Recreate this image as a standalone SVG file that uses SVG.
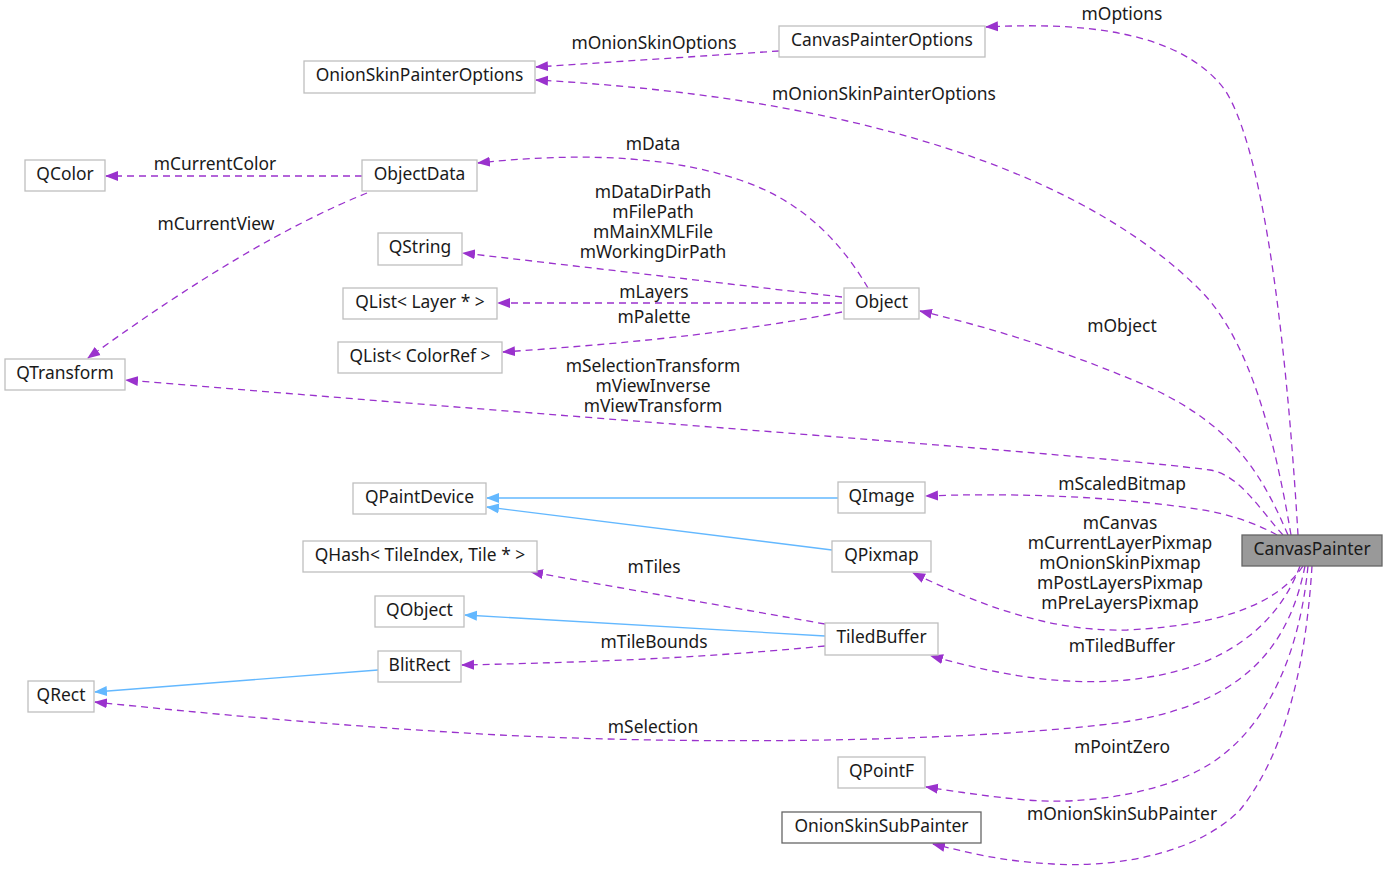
<svg xmlns="http://www.w3.org/2000/svg" width="1388" height="870" viewBox="0 0 1388 870">
<style>
text{font-family:"Noto Sans","Open Sans","DejaVu Sans",sans-serif;font-size:17.4px;fill:#1a1a1a;text-anchor:middle}
.n rect{fill:#fff;stroke:#bfbfbf;stroke-width:1.3}
.n.dk rect{stroke:#666}
.n.main rect{fill:#999;stroke:#666}
.e path{fill:none;stroke-width:1.3}
.u{stroke:#9a32cd;stroke-dasharray:7,5;marker-end:url(#ap)}
.b{stroke:#63b8ff;marker-end:url(#ab)}
</style>
<defs>
<marker id="ap" viewBox="0 0 13 11" refX="12" refY="5.5" markerWidth="13" markerHeight="11" markerUnits="userSpaceOnUse" orient="auto"><path d="M0,0.5 L13,5.5 L0,10.5 Z" fill="#9a32cd"/></marker>
<marker id="ab" viewBox="0 0 13 11" refX="12" refY="5.5" markerWidth="13" markerHeight="11" markerUnits="userSpaceOnUse" orient="auto"><path d="M0,0.5 L13,5.5 L0,10.5 Z" fill="#63b8ff"/></marker>
</defs>
<rect width="1388" height="870" fill="#fff"/>
<g id="edges" class="e">
<path class="u" d="M1298,535 C1290,400 1270,160 1225,90 C1180,30 1080,22 986,27"/>
<path class="u" d="M1291,535 C1275,440 1250,340 1200,290 C1100,190 900,100 536,80"/>
<path class="u" d="M1288,535 C1260,470 1230,420 1133,380 C1060,350 1000,330 920,311"/>
<path class="u" d="M1283,535 C1260,510 1240,475 1210,470 C1100,455 600,420 126,380"/>
<path class="u" d="M1277,535 C1250,520 1220,512 1190,508 C1100,495 1000,493 926,496"/>
<path class="u" d="M1303,566 C1280,600 1230,625 1127,630 C1050,632 980,605 913,573"/>
<path class="u" d="M1300,566 C1280,620 1230,670 1127,680 C1060,686 1000,675 931,656"/>
<path class="u" d="M1305,566 C1290,640 1250,710 1100,725 C950,742 700,745 500,735 C350,727 200,713 95,702"/>
<path class="u" d="M1308,566 C1300,650 1270,720 1220,757 C1170,795 1080,805 1027,800 C990,797 960,792 926,787"/>
<path class="u" d="M1312,566 C1305,680 1280,760 1240,810 C1190,860 1100,867 1053,864 C1000,861 970,853 933,844"/>
<path class="u" d="M779,51 L536,67"/>
<path class="u" d="M362,176 L106,176"/>
<path class="u" d="M367,193 Q250,240 88,358"/>
<path class="u" d="M868,288 C840,240 800,200 740,180 C680,160 600,150 478,163"/>
<path class="u" d="M842,297 L463,253"/>
<path class="u" d="M842,303 L498,303"/>
<path class="u" d="M842,312 C750,330 650,342 503,352"/>
<path class="u" d="M825,624 L531,572"/>
<path class="u" d="M825,646 C700,658 600,662 462,665"/>
<path class="b" d="M838,498 L487,498"/>
<path class="b" d="M832,550 L487,507"/>
<path class="b" d="M825,636 L465,615"/>
<path class="b" d="M378,670 L95,692"/>
</g>
<g id="edge-labels">
<text x="1122" y="20">mOptions</text>
<text x="654" y="49">mOnionSkinOptions</text>
<text x="884" y="100">mOnionSkinPainterOptions</text>
<text x="215" y="170">mCurrentColor</text>
<text x="653" y="150">mData</text>
<text x="653" y="198">mDataDirPath<tspan x="653" dy="20">mFilePath</tspan><tspan x="653" dy="20">mMainXMLFile</tspan><tspan x="653" dy="20">mWorkingDirPath</tspan></text>
<text x="216" y="230">mCurrentView</text>
<text x="654" y="298">mLayers</text>
<text x="654" y="323">mPalette</text>
<text x="1122" y="332">mObject</text>
<text x="653" y="372">mSelectionTransform<tspan x="653" dy="20">mViewInverse</tspan><tspan x="653" dy="20">mViewTransform</tspan></text>
<text x="1122" y="490">mScaledBitmap</text>
<text x="1120" y="529">mCanvas<tspan x="1120" dy="20">mCurrentLayerPixmap</tspan><tspan x="1120" dy="20">mOnionSkinPixmap</tspan><tspan x="1120" dy="20">mPostLayersPixmap</tspan><tspan x="1120" dy="20">mPreLayersPixmap</tspan></text>
<text x="654" y="573">mTiles</text>
<text x="654" y="648">mTileBounds</text>
<text x="1122" y="652">mTiledBuffer</text>
<text x="653" y="733">mSelection</text>
<text x="1122" y="753">mPointZero</text>
<text x="1122" y="820">mOnionSkinSubPainter</text>
</g>
<g id="CanvasPainterOptions" class="n"><rect x="779" y="26" width="206" height="31"/><text x="882" y="46">CanvasPainterOptions</text></g>
<g id="OnionSkinPainterOptions" class="n"><rect x="304" y="61" width="231" height="32"/><text x="419.5" y="81">OnionSkinPainterOptions</text></g>
<g id="QColor" class="n"><rect x="25" y="160" width="80" height="31"/><text x="65" y="180">QColor</text></g>
<g id="ObjectData" class="n"><rect x="362" y="160" width="115" height="31"/><text x="419.5" y="180">ObjectData</text></g>
<g id="QString" class="n"><rect x="378" y="233" width="84" height="32"/><text x="420" y="253">QString</text></g>
<g id="QListLayer" class="n"><rect x="343" y="288" width="154" height="31"/><text x="420" y="308">QList&lt; Layer * &gt;</text></g>
<g id="Object" class="n"><rect x="844" y="288" width="75" height="31"/><text x="881.5" y="308">Object</text></g>
<g id="QListColorRef" class="n"><rect x="338" y="342" width="164" height="31"/><text x="420" y="362">QList&lt; ColorRef &gt;</text></g>
<g id="QTransform" class="n"><rect x="5" y="359" width="120" height="31"/><text x="65" y="379">QTransform</text></g>
<g id="QPaintDevice" class="n"><rect x="353" y="483" width="133" height="31"/><text x="419.5" y="503">QPaintDevice</text></g>
<g id="QImage" class="n"><rect x="838" y="482" width="87" height="31"/><text x="881.5" y="502">QImage</text></g>
<g id="QHash" class="n"><rect x="303" y="541" width="234" height="31"/><text x="420" y="561">QHash&lt; TileIndex, Tile * &gt;</text></g>
<g id="QPixmap" class="n"><rect x="832" y="541" width="99" height="31"/><text x="881.5" y="561">QPixmap</text></g>
<g id="QObject" class="n"><rect x="375" y="596" width="89" height="31"/><text x="419.5" y="616">QObject</text></g>
<g id="TiledBuffer" class="n"><rect x="825" y="623" width="113" height="32"/><text x="881.5" y="643">TiledBuffer</text></g>
<g id="BlitRect" class="n"><rect x="378" y="651" width="83" height="31"/><text x="419.5" y="671">BlitRect</text></g>
<g id="QRect" class="n"><rect x="28" y="681" width="66" height="31"/><text x="61" y="701">QRect</text></g>
<g id="CanvasPainter" class="n main"><rect x="1242" y="535" width="140" height="31"/><text x="1312" y="555">CanvasPainter</text></g>
<g id="QPointF" class="n"><rect x="838" y="757" width="87" height="31"/><text x="881.5" y="777">QPointF</text></g>
<g id="OnionSkinSubPainter" class="n dk"><rect x="782" y="812" width="199" height="31"/><text x="881.5" y="832">OnionSkinSubPainter</text></g>
</svg>
